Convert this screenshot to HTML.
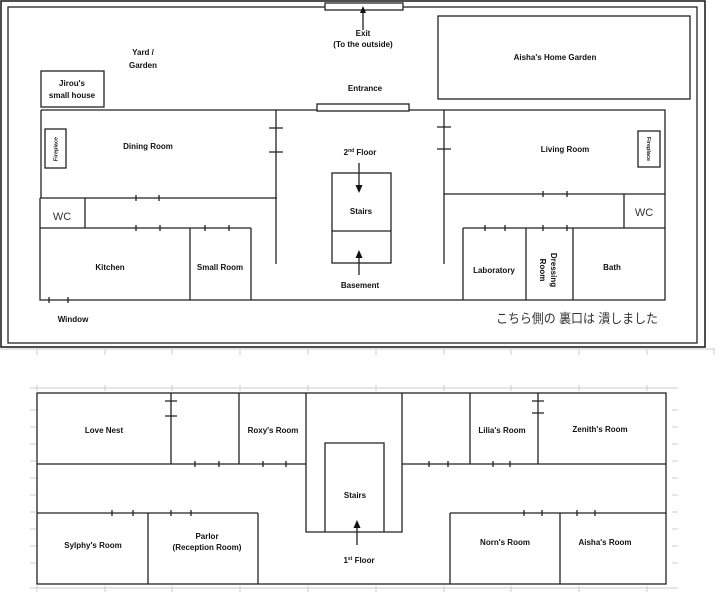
<!DOCTYPE html>
<html><head><meta charset="utf-8"><style>
html,body{margin:0;padding:0;background:#fff}
svg{display:block}
text{font-family:"Liberation Sans","Noto Sans CJK JP",sans-serif;font-weight:bold;font-size:8px;fill:#111;text-anchor:middle}
</style></head><body>
<svg width="720" height="599" viewBox="0 0 720 599" xmlns="http://www.w3.org/2000/svg">
<g stroke="#ccc" stroke-width="1" fill="none">
<line x1="0" y1="349" x2="715" y2="349"/>
<line x1="30" y1="388" x2="678" y2="388"/>
<line x1="30" y1="588" x2="678" y2="588"/>
<path d="M37 349v6M105 349v6M172 349v6M240 349v6M308 349v6M376 349v6M444 349v6M511 349v6M579 349v6M647 349v6M714 349v6
M37 385v6M105 385v6M172 385v6M240 385v6M308 385v6M376 385v6M444 385v6M511 385v6M579 385v6M647 385v6
M37 586v6M105 586v6M172 586v6M240 586v6M308 586v6M376 586v6M444 586v6M511 586v6M579 586v6M647 586v6
M30 410h6M30 427h6M30 444h6M30 461h6M30 478h6M30 495h6M30 512h6M30 529h6M30 546h6M30 563h6
M672 410h6M672 427h6M672 444h6M672 461h6M672 478h6M672 495h6M672 512h6M672 529h6M672 546h6M672 563h6"/>
</g>
<g stroke="#222" stroke-width="1.3" fill="none">
<rect x="1" y="1" width="704" height="346" stroke-width="1.6"/>
<rect x="8" y="7" width="689" height="336"/>
<rect x="325" y="3" width="78" height="7" fill="#fff"/>
<rect x="317" y="104" width="92" height="7" fill="#fff"/>
<rect x="41" y="71" width="63" height="36"/>
<rect x="438" y="16" width="252" height="83"/>
<path d="M41 110H317M409 110H665V300H40V198"/>
<path d="M41 110V198"/>
<path d="M276 110V264M444 110V264"/>
<path d="M40 198H277M40 228H251M85 198V228M190 228V300M251 228V300"/>
<path d="M444 194H665M624 194V228H665M463 228H624M463 228V300M526 228V300M573 228V300"/>
<rect x="45" y="129" width="21" height="39"/>
<rect x="638" y="131" width="22" height="36"/>
<rect x="332" y="173" width="59" height="90"/>
<path d="M332 231H391"/>
<path d="M269 128h14M269 152h14M437 127h14M437 149h14"/>
<path d="M136 195v6M159 195v6M136 225v6M160 225v6M205 225v6M229 225v6M49 297v6M68 297v6"/>
<path d="M543 191v6M567 191v6M485 225v6M505 225v6M543 225v6M567 225v6"/>
<path d="M363 30V12M359 163V186M359 275V257"/>
</g>
<g fill="#111">
<path d="M363 6l-3 7h6z"/>
<path d="M359 193l-3.5-8h7z"/>
<path d="M359 250l-3.5 8h7z"/>
</g>
<g stroke="#222" stroke-width="1.3" fill="none">
<rect x="37" y="393" width="629" height="191"/>
<path d="M37 464H306M402 464H666M37 513H258M450 513H666"/>
<path d="M171 393V464M239 393V464M306 393V532H402V393M470 393V464M538 393V464"/>
<path d="M148 513V584M258 513V584M450 513V584M560 513V584"/>
<path d="M325 532V443H384V532"/>
<path d="M165 401h12M165 416h12M532 401h12M532 413h12"/>
<path d="M195 461v6M219 461v6M263 461v6M286 461v6M429 461v6M448 461v6M493 461v6M510 461v6"/>
<path d="M112 510v6M133 510v6M171 510v6M191 510v6M524 510v6M542 510v6M577 510v6M595 510v6"/>
<path d="M357 545V528"/>
</g>
<path d="M357 520l-3.5 8h7z" fill="#111"/>
<text x="363" y="36">Exit</text>
<text x="363" y="47">(To the outside)</text>
<text x="143" y="55" font-size="9">Yard /</text>
<text x="143" y="68" font-size="9">Garden</text>
<text x="72" y="86">Jirou's</text>
<text x="72" y="98">small house</text>
<text x="365" y="91">Entrance</text>
<text x="555" y="60">Aisha's Home Garden</text>
<text x="148" y="149">Dining Room</text>
<text x="360" y="155">2<tspan font-size="5" dy="-3">nd</tspan><tspan dy="3"> Floor</tspan></text>
<text x="361" y="214">Stairs</text>
<text x="360" y="288">Basement</text>
<text x="565" y="152">Living Room</text>
<text x="110" y="270">Kitchen</text>
<text x="220" y="270">Small Room</text>
<text x="494" y="273">Laboratory</text>
<text x="612" y="270">Bath</text>
<text x="73" y="322">Window</text>
<text x="62" y="220" style="font-weight:normal;font-size:11px;fill:#333">WC</text>
<text x="644" y="216" style="font-weight:normal;font-size:11px;fill:#333">WC</text>
<text transform="translate(57.5 149) rotate(-90)" style="font-size:5.5px">Fireplace</text>
<text transform="translate(647 149) rotate(90)" style="font-size:5.5px">Fireplace</text>
<text transform="translate(551 270) rotate(90)">Dressing</text>
<text transform="translate(540 270) rotate(90)">Room</text>
<text x="577" y="323" textLength="162" lengthAdjust="spacingAndGlyphs" style="font-weight:normal;font-size:13px;fill:#333">こちら側の 裏口は 潰しました</text>
<text x="104" y="433">Love Nest</text>
<text x="273" y="433">Roxy's Room</text>
<text x="502" y="433">Lilia's Room</text>
<text x="600" y="432">Zenith's Room</text>
<text x="355" y="498">Stairs</text>
<text x="93" y="548">Sylphy's Room</text>
<text x="207" y="539">Parlor</text>
<text x="207" y="550">(Reception Room)</text>
<text x="359" y="563">1<tspan font-size="5" dy="-3">st</tspan><tspan dy="3"> Floor</tspan></text>
<text x="505" y="545">Norn's Room</text>
<text x="605" y="545">Aisha's Room</text>
</svg>
</body></html>
